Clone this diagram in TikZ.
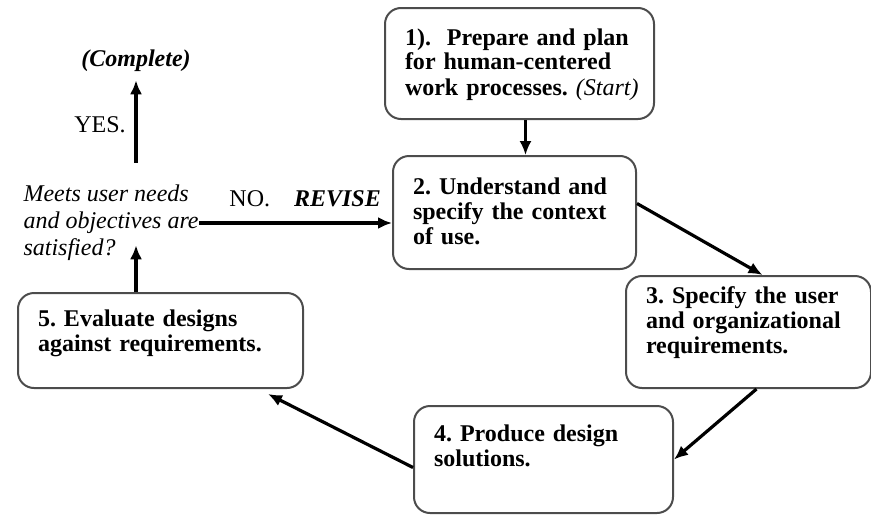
\documentclass[tikz,border=0pt]{standalone}
\usepackage{fontspec}
\setmainfont{Liberation Serif}
\usetikzlibrary{arrows.meta}
\frenchspacing

\begin{document}
\begin{tikzpicture}[x=0.5pt, y=-0.5pt,
    stepbox/.style={draw=black!70, line width=1pt, rounded corners=8pt, anchor=north west,
        align=left, inner xsep=10pt, inner ysep=0pt, font=\fontsize{12}{12.5}\selectfont\bfseries},
    flow/.style={-{Latex[length=7pt,width=6pt]}, line width=1.6pt},
    txt/.style={font=\fontsize{12}{13.5}\selectfont}]
    \useasboundingbox (0,0) rectangle (871,514);
    % the five steps
    \node[stepbox, text width=114.5pt, text height=18.5pt, text depth=37pt] (plan) at (384,7)
        {1).~ Prepare and plan\\for human-centered\\\mbox{work processes. {\mdseries\itshape(Start)}}};
    \node[stepbox, text width=101.5pt, text height=19pt, text depth=37.5pt] (context) at (392,155)
        {2. Understand and\\specify the context\\of use.};
    \node[stepbox, text width=102.5pt, text height=13.5pt, text depth=42.5pt] (requirements) at (625,275)
        {3. Specify the user\\and organizational\\requirements.};
    \node[stepbox, text width=109.5pt, text height=17.5pt, text depth=36pt] (design) at (413,405)
        {4. Produce design\\solutions.};
    \node[stepbox, text width=122.5pt, text height=16.5pt, text depth=31pt] (evaluate) at (17,292)
        {5. Evaluate designs\\against requirements.};
    % the question and the way out
    \node[txt, font=\fontsize{12}{13.5}\selectfont\itshape, align=left, inner sep=0pt, anchor=east] (check) at (199,223)
        {Meets user needs\\and objectives are\\satisfied?};
    \node[font=\fontsize{12}{13.5}\selectfont\bfseries\itshape, inner sep=4pt] (done) at (136,61) {(Complete)};
    % cycle
    \draw[flow, line width=1.2pt] ([xshift=3pt]plan.south) -- ([xshift=3pt]plan.south |- context.north);
    \draw[flow] ([yshift=4.5pt]context.east) -- ([xshift=7pt]requirements.north);
    \draw[flow] ([xshift=4pt]requirements.south) -- (design.east);
    \draw[flow] ([yshift=-4pt]design.west) -- ([xshift=-18pt,yshift=-2.5pt]evaluate.south east);
    \draw[flow, shorten >=-8pt] (done.south |- evaluate.north) -- (done.south |- check.south);
    \draw[flow, shorten <=11pt] (done.south |- check.north) -- node[txt, left=1pt, pos=0.57] {YES.} (done.south);
    \draw[flow] (check.east) -- node[txt, above=4pt, pos=0.55] {NO.\quad\textbf{\textit{REVISE}}} (check.east -| context.west);
\end{tikzpicture}
\end{document}
